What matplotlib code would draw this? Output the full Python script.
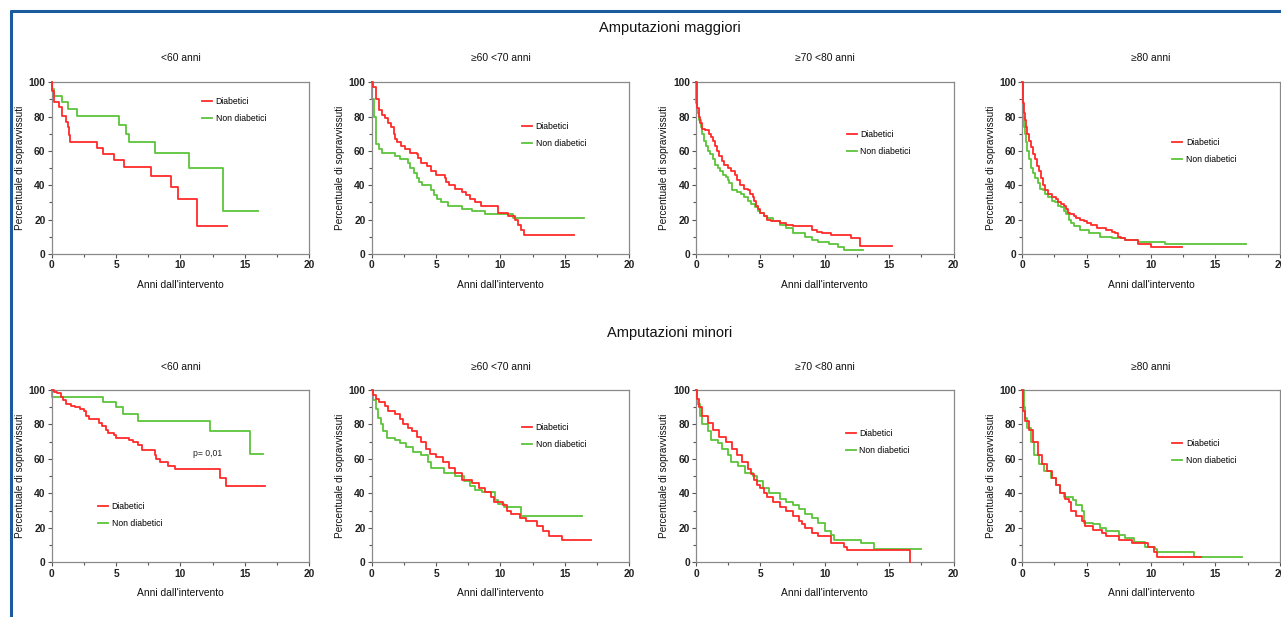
import matplotlib
matplotlib.use("Agg")
import matplotlib.pyplot as plt
from matplotlib.lines import Line2D
from matplotlib.ticker import MultipleLocator

plt.rcParams['font.family'] = ['Liberation Sans', 'DejaVu Sans']

# ---------------- data ----------------
section_titles = ["Amputazioni maggiori", "Amputazioni minori"]
age_groups = ["<60 anni", "\u226560 <70 anni", "\u226570 <80 anni", "\u226580 anni"]
series_labels = ["Diabetici", "Non diabetici"]
xlabel = "Anni dall'intervento"
ylabel = "Percentuale di sopravvissuti"
pvalue_text = "p= 0,01"

# Amputazioni maggiori
mag_lt60_dia_t = [0, 0.05, 0.2, 0.6, 0.8, 1.1, 1.25, 1.35, 1.45, 3.5, 3.95, 4.8, 5.65, 7.75, 9.25, 9.8, 11.25, 13.6]
mag_lt60_dia_s = [100, 95, 88.7, 85.8, 80.3, 77, 73.7, 69.2, 64.9, 61.4, 58.1, 54.6, 50.7, 45.2, 39, 32.2, 16.2, 16.2]
mag_lt60_non_t = [0, 0.05, 0.2, 0.8, 1.3, 2.0, 5.2, 5.8, 6.0, 8.0, 10.7, 13.3, 16.0]
mag_lt60_non_s = [100, 96, 92.3, 88.3, 84.4, 80.3, 75, 70, 65.3, 58.5, 50.3, 25, 25]

mag_60_70_dia_t = [0, 0.1, 0.3, 0.6, 0.8, 1.0, 1.3, 1.5, 1.7, 1.8, 2.0, 2.3, 2.6, 3.0, 3.5, 3.6, 3.8, 4.3, 4.6, 5.0,
                   5.7, 5.8, 6.0, 6.5, 7.0, 7.3, 7.6, 8.0, 8.5, 9.8, 10.6, 11.1, 11.4, 11.6, 11.8, 15.7]
mag_60_70_dia_s = [100, 97, 90, 84, 81, 79, 76, 74, 70, 67, 65, 63, 61, 59, 58, 56, 53, 51, 48, 46,
                   44, 42, 40, 38, 36, 34, 32, 30, 28, 24, 22, 20, 17, 14, 11, 11]
mag_60_70_non_t = [0, 0.05, 0.15, 0.3, 0.35, 0.6, 0.8, 1.8, 2.2, 2.8, 3.0, 3.3, 3.5, 3.7, 3.9, 4.6, 4.8, 5.1, 5.4,
                   5.9, 7.0, 7.8, 8.8, 11.0, 16.5]
mag_60_70_non_s = [100, 90, 80, 70, 64, 61, 59, 57, 55, 53, 50, 47, 44, 42, 40, 37, 34, 32, 30,
                   28, 26, 25, 23, 21, 21]

mag_70_80_dia_t = [0, 0.05, 0.1, 0.2, 0.3, 0.5, 0.7, 1.0, 1.15, 1.3, 1.45, 1.6, 1.8, 2.0, 2.2, 2.5, 2.75, 3.0, 3.2,
                   3.4, 3.7, 4.0, 4.2, 4.4, 4.5, 4.65, 4.8, 5.0, 5.3, 5.5, 5.8, 6.5, 7.0, 7.5, 9.0, 9.4, 9.8, 10.5,
                   12.0, 12.7, 15.2]
mag_70_80_dia_s = [100, 90, 85, 80, 76, 73, 72, 70, 68, 66, 63, 60, 57, 54, 52, 50, 48, 46, 43,
                   40, 38, 37, 35, 33, 31, 28, 26, 24, 22, 20, 19, 18, 17, 16, 14, 13, 12, 11,
                   9, 4.5, 4.5]
mag_70_80_non_t = [0, 0.03, 0.1, 0.2, 0.35, 0.5, 0.65, 0.8, 0.95, 1.1, 1.3, 1.5, 1.7, 1.9, 2.1, 2.3, 2.45, 2.6, 2.8,
                   3.2, 3.5, 3.75, 4.0, 4.3, 4.6, 4.8, 5.0, 5.25, 5.5, 6.0, 6.5, 7.0, 7.5, 8.5, 9.0, 9.5, 10.3,
                   11.0, 11.5, 13.0]
mag_70_80_non_s = [100, 88, 82, 78, 74, 70, 66, 63, 60, 58, 55, 52, 50, 48, 46, 45, 43, 41, 37,
                   36, 35, 33, 31, 29, 27, 25, 24, 22, 21, 19, 17, 15, 12, 10, 8, 7, 6,
                   4, 2, 2]

mag_ge80_dia_t = [0, 0.03, 0.1, 0.2, 0.3, 0.4, 0.55, 0.7, 0.85, 1.0, 1.15, 1.3, 1.45, 1.6, 1.8, 2.0, 2.3, 2.6, 2.8,
                  3.0, 3.2, 3.4, 3.55, 3.7, 4.0, 4.2, 4.5, 4.8, 5.0, 5.3, 5.8, 6.5, 7.0, 7.2, 7.4, 7.7, 8.0,
                  9.0, 10.0, 12.4]
mag_ge80_dia_s = [100, 88, 82, 78, 74, 70, 66, 62, 58, 55, 51, 48, 44, 40, 37, 35, 33, 32, 30,
                  29, 28, 26, 24, 23, 22, 21, 20, 19, 18, 17, 15, 14, 13, 12, 10, 9, 8,
                  6, 4, 4]
mag_ge80_non_t = [0, 0.03, 0.1, 0.2, 0.3, 0.4, 0.55, 0.7, 0.85, 1.0, 1.2, 1.4, 1.6, 1.8, 2.0, 2.3, 2.55, 2.8, 3.0,
                  3.2, 3.4, 3.6, 3.8, 4.0, 4.5, 5.2, 6.0, 7.0, 8.0, 9.0, 11.1, 17.4]
mag_ge80_non_s = [100, 80, 74, 70, 65, 60, 55, 50, 47, 44, 41, 38, 37, 35, 33, 31, 30, 28, 27,
                  25, 23, 20, 18, 16, 14, 12, 10, 9, 8, 7, 6, 6]

# Amputazioni minori
min_lt60_dia_t = [0, 0.2, 0.4, 0.7, 0.9, 1.1, 1.5, 1.8, 2.2, 2.5, 2.7, 2.9, 3.7, 3.9, 4.2, 4.4, 4.8, 5.0, 6.0,
                  6.3, 6.7, 7.0, 8.0, 8.1, 8.4, 9.0, 9.6, 13.1, 13.5, 16.6]
min_lt60_dia_s = [100, 99, 98, 96, 94, 92, 91, 90, 89, 88, 85, 83, 81, 79, 77, 75, 74, 72, 71,
                  70, 68, 65, 62, 60, 58, 56, 54, 49, 44, 44]
min_lt60_non_t = [0, 0.05, 4.0, 5.0, 5.5, 6.7, 12.3, 15.4, 16.4]
min_lt60_non_s = [100, 96, 93, 90, 86, 82, 76, 63, 63]

min_60_70_dia_t = [0, 0.1, 0.3, 0.6, 1.0, 1.3, 1.8, 2.2, 2.4, 2.8, 3.1, 3.5, 3.8, 4.2, 4.5, 5.0, 5.5, 6.0, 6.5,
                   7.0, 7.8, 8.3, 8.8, 9.3, 9.5, 10.2, 10.5, 10.8, 11.5, 12.0, 12.8, 13.3, 13.8, 14.8, 17.0]
min_60_70_dia_s = [100, 97, 95, 93, 91, 88, 86, 83, 80, 78, 76, 73, 70, 66, 63, 61, 58, 55, 52,
                   48, 46, 43, 41, 38, 35, 33, 30, 28, 26, 24, 21, 18, 15, 13, 13]
min_60_70_non_t = [0, 0.1, 0.3, 0.5, 0.7, 0.9, 1.2, 1.8, 2.2, 2.7, 3.2, 3.8, 4.4, 4.6, 5.6, 6.5, 7.2, 7.6, 8.0,
                   8.6, 9.6, 9.8, 10.3, 11.6, 16.3]
min_60_70_non_s = [100, 94, 89, 84, 80, 76, 72, 71, 69, 67, 64, 62, 58, 55, 52, 50, 47, 44, 42,
                   41, 36, 34, 32, 27, 27]

min_70_80_dia_t = [0, 0.05, 0.2, 0.5, 0.9, 1.3, 1.8, 2.3, 2.8, 3.2, 3.6, 4.0, 4.25, 4.5, 4.75, 5.0, 5.25, 5.5, 6.0,
                   6.5, 7.0, 7.5, 8.0, 8.25, 8.5, 9.0, 9.5, 10.5, 11.5, 11.7, 16.6]
min_70_80_dia_s = [100, 95, 90, 85, 81, 77, 73, 70, 66, 62, 58, 54, 51, 48, 45, 43, 40, 38, 35,
                   32, 30, 27, 24, 22, 20, 17, 15, 11, 9, 7, 0]
min_70_80_non_t = [0, 0.05, 0.3, 0.5, 0.9, 1.2, 1.7, 2.0, 2.5, 2.7, 3.3, 3.8, 4.4, 4.7, 5.2, 5.7, 6.5, 7.0, 7.5,
                   8.0, 8.5, 9.0, 9.5, 10.0, 10.5, 10.7, 12.8, 13.8, 17.5]
min_70_80_non_s = [100, 92, 85, 80, 76, 71, 69, 66, 62, 58, 56, 52, 50, 47, 43, 40, 37, 35, 33,
                   31, 28, 26, 23, 18, 16, 13, 11, 8, 8]

min_ge80_dia_t = [0, 0.05, 0.2, 0.5, 0.8, 1.2, 1.5, 1.9, 2.3, 2.6, 2.9, 3.3, 3.6, 3.8, 4.2, 4.6, 4.9, 5.5, 6.2,
                  6.5, 7.5, 8.5, 9.8, 10.2, 10.5, 13.9]
min_ge80_dia_s = [100, 88, 82, 77, 70, 62, 57, 53, 49, 45, 40, 37, 35, 30, 27, 24, 21, 19, 17,
                  15, 13, 11, 9, 6, 3, 3]
min_ge80_non_t = [0, 0.1, 0.2, 0.4, 0.7, 0.9, 1.3, 1.7, 2.2, 2.6, 2.9, 3.2, 3.9, 4.2, 4.6, 4.8, 5.5, 6.0, 6.5,
                  7.5, 8.0, 8.7, 9.5, 10.3, 10.5, 13.3, 17.1]
min_ge80_non_s = [100, 90, 84, 78, 70, 62, 57, 53, 49, 45, 40, 38, 36, 33, 30, 23, 22, 20, 18,
                  16, 14, 12, 9, 8, 6, 3, 3]

panels = [
    [(mag_lt60_dia_t, mag_lt60_dia_s, mag_lt60_non_t, mag_lt60_non_s),
     (mag_60_70_dia_t, mag_60_70_dia_s, mag_60_70_non_t, mag_60_70_non_s),
     (mag_70_80_dia_t, mag_70_80_dia_s, mag_70_80_non_t, mag_70_80_non_s),
     (mag_ge80_dia_t, mag_ge80_dia_s, mag_ge80_non_t, mag_ge80_non_s)],
    [(min_lt60_dia_t, min_lt60_dia_s, min_lt60_non_t, min_lt60_non_s),
     (min_60_70_dia_t, min_60_70_dia_s, min_60_70_non_t, min_60_70_non_s),
     (min_70_80_dia_t, min_70_80_dia_s, min_70_80_non_t, min_70_80_non_s),
     (min_ge80_dia_t, min_ge80_dia_s, min_ge80_non_t, min_ge80_non_s)],
]

# ---------------- layout / style ----------------
W, H = 1281, 617
RED = "#ff2a2a"
GREEN = "#5cc43a"
BLUE = "#1b5c9e"
col_left_px = [51.7, 371.7, 696.0, 1022.3]
ax_w_px = 257.5
row_top_px = [82.3, 390.0]
row_bot_px = [253.8, 562.3]
section_y_px = [28.3, 333.0]
title_y_px = [58.3, 366.5]
# legend anchor (axes fraction) per panel: x of line start, y of first row centre
legend_pos = [[(0.585, 0.883), (0.585, 0.737), (0.585, 0.694), (0.583, 0.645)],
              [(0.181, 0.322), (0.585, 0.780), (0.581, 0.742), (0.583, 0.685)]]

fig = plt.figure(figsize=(W / 100, H / 100), dpi=100)

for r in range(2):
    fig.text(670 / W, 1 - section_y_px[r] / H, section_titles[r], ha="center", va="center",
             fontsize=10.5, color="#111111")
    for c in range(4):
        left = col_left_px[c] / W
        bottom = 1 - row_bot_px[r] / H
        height = (row_bot_px[r] - row_top_px[r]) / H
        ax = fig.add_axes([left, bottom, ax_w_px / W, height])
        dt, ds, nt, ns = panels[r][c]
        l1, = ax.step(dt, ds, where="post", color=RED, lw=1.3, clip_on=False, zorder=3)
        l2, = ax.step(nt, ns, where="post", color=GREEN, lw=1.3, clip_on=False, zorder=2)
        ax.set_xlim(0, 20)
        ax.set_ylim(0, 100)
        ax.xaxis.set_major_locator(MultipleLocator(5))
        ax.xaxis.set_minor_locator(MultipleLocator(2.5))
        ax.yaxis.set_major_locator(MultipleLocator(20))
        ax.yaxis.set_minor_locator(MultipleLocator(10))
        for sp in ax.spines.values():
            sp.set_color("#8a8a8a")
            sp.set_linewidth(0.9)
        ax.tick_params(which="both", direction="out", top=False, right=False, colors="#555555",
                       labelcolor="#222222", labelsize=7.4, width=0.8)
        ax.tick_params(which="major", length=3, pad=1.5)
        ax.tick_params(which="minor", length=2)
        for lab in ax.get_xticklabels() + ax.get_yticklabels():
            lab.set_fontweight("bold")
        ax.text(0.5, 1 + (row_top_px[r] - title_y_px[r]) / (row_bot_px[r] - row_top_px[r]), age_groups[c],
                transform=ax.transAxes, ha="center", va="center", fontsize=7.4, color="#111111")
        ax.set_xlabel(xlabel, fontsize=7.4, color="#111111")
        ax.xaxis.set_label_coords(0.5, -0.15)
        ax.set_ylabel(ylabel, fontsize=7.2, color="#111111")
        ax.yaxis.set_label_coords(-0.104, 0.5)
        lx, ly = legend_pos[r][c]
        ax.legend([l1, l2], series_labels, loc="upper left", bbox_to_anchor=(lx, ly + 0.03),
                  frameon=False, fontsize=6.2, handlelength=1.15, handletextpad=0.4,
                  labelspacing=0.95, borderpad=0, borderaxespad=0)
        if r == 1 and c == 0:
            ax.text(12.1, 63, pvalue_text, ha="center", va="center", fontsize=6.2, color="#222222")

# blue frame lines
fig.add_artist(Line2D([9.5 / W, 1], [1 - 11 / H, 1 - 11 / H], transform=fig.transFigure,
                      color=BLUE, lw=2.2, solid_capstyle="butt"))
fig.add_artist(Line2D([10.5 / W, 10.5 / W], [0, 1 - 10 / H], transform=fig.transFigure,
                      color=BLUE, lw=2.2, solid_capstyle="butt"))

fig.savefig("out.png", dpi=100)
